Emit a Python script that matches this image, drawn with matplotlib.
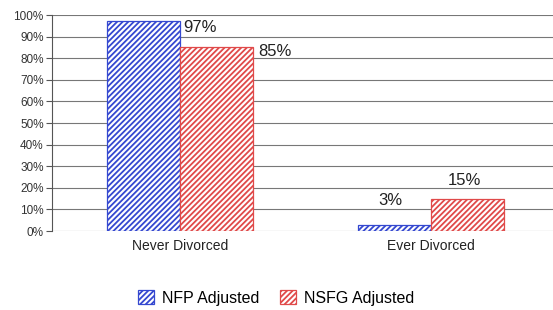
import numpy as np
import matplotlib.pyplot as plt
import matplotlib as mpl

mpl.rcParams['hatch.linewidth'] = 1.3
mpl.rcParams['font.family'] = ['Liberation Sans', 'DejaVu Sans']

categories = ['Never Divorced', 'Ever Divorced']
nfp = [97, 3]
nsfg = [85, 15]
series_names = ['NFP Adjusted', 'NSFG Adjusted']
yticks = [0, 10, 20, 30, 40, 50, 60, 70, 80, 90, 100]

fig = plt.figure(figsize=(5.53, 3.10), dpi=100)
ax = fig.add_axes([52/553, 1-231/310, 1-52/553, 216/310])

x = np.arange(len(categories))
w = 0.29
blue = '#3548d0'
red = '#e04a4a'
b1 = ax.bar(x - w/2, nfp, w, color='white', edgecolor=blue, hatch='//////', linewidth=0.9, label=series_names[0], zorder=3)
b2 = ax.bar(x + w/2, nsfg, w, color='white', edgecolor=red, hatch='//////', linewidth=0.9, label=series_names[1], zorder=3)

ax.set_ylim(0, 100)
ax.set_xlim(-0.51, 1.486)
ax.set_yticks(yticks)
ax.set_yticklabels([f'{v}%' for v in yticks], fontsize=8.5, color='#333333')
ax.set_xticks(x)
ax.set_xticklabels(categories, fontsize=10, color='#222222')
ax.tick_params(axis='x', length=0, pad=6)
ax.tick_params(axis='y', length=4, color='#555555', pad=2)
ax.yaxis.grid(True, color='#777777', linewidth=0.8, zorder=0)
for s in ['top', 'right', 'bottom']:
    ax.spines[s].set_visible(False)
ax.spines['left'].set_color('#555555')

# value labels
lab = dict(fontsize=12, color='#222222', zorder=4, va='center')
ax.text(x[0] + 0.012, nfp[0] - 2.6, f'{nfp[0]}%', ha='left', **lab)
ax.text(x[0] + 0.31, nsfg[0] - 2.1, f'{nsfg[0]}%', ha='left', **lab)
ax.text(x[1] - 0.16, nfp[1] + 10.9, f'{nfp[1]}%', ha='center', **lab)
ax.text(x[1] + 0.135, nsfg[1] + 8.6, f'{nsfg[1]}%', ha='center', **lab)

fig.legend(handles=[b1, b2], loc='center', bbox_to_anchor=(0.5, 1-298/310), ncol=2,
           frameon=False, fontsize=11.5, handlelength=1.0, handleheight=1.0, columnspacing=1.3, handletextpad=0.5)

fig.savefig('out.png', dpi=100)
